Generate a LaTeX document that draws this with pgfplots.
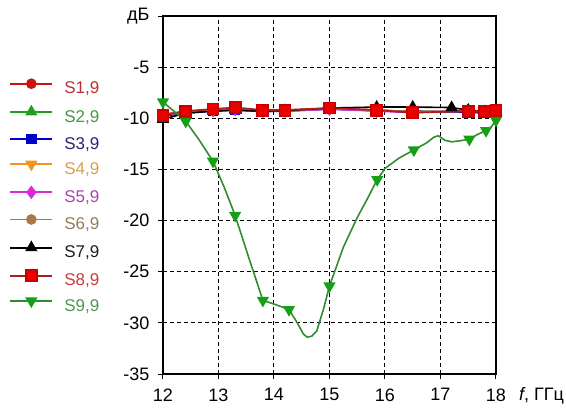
\documentclass[border=0pt]{standalone}
\usepackage{pgfplots}
\pgfplotsset{compat=1.18}
\usepackage{fontspec}
\setmainfont{Liberation Sans}
\definecolor{cS1}{RGB}{200,20,20}
\definecolor{cS1t}{RGB}{180,50,50}
\definecolor{cS2}{RGB}{30,160,30}
\definecolor{cS2t}{RGB}{70,150,70}
\definecolor{cS3}{RGB}{0,0,200}
\definecolor{cS3t}{RGB}{40,40,110}
\definecolor{cS4}{RGB}{240,150,30}
\definecolor{cS4t}{RGB}{215,160,80}
\definecolor{cS5}{RGB}{220,40,220}
\definecolor{cS5t}{RGB}{170,70,170}
\definecolor{cS6}{RGB}{170,120,70}
\definecolor{cS6t}{RGB}{150,125,90}
\definecolor{cS7}{RGB}{0,0,0}
\definecolor{cS7t}{RGB}{30,30,30}
\definecolor{cS8}{RGB}{235,0,0}
\definecolor{cS8l}{RGB}{170,30,30}
\definecolor{cS8t}{RGB}{200,60,60}
\definecolor{cS9}{RGB}{20,160,20}
\definecolor{cS9l}{RGB}{50,140,50}
\definecolor{cS9t}{RGB}{80,150,80}
\begin{document}
\begin{tikzpicture}
\useasboundingbox (0,0) rectangle (566pt,408pt);
\begin{axis}[
  at={(163pt,34pt)}, anchor=south west,
  scale only axis, width=333pt, height=358pt,
  xmin=12, xmax=18, ymin=-35, ymax=0,
  xtick={12,13,...,18}, ytick={-35,-30,...,0},
  yticklabels={-35,-30,-25,-20,-15,-10,-5,дБ},
  /pgf/number format/assume math mode=true,
  tick label style={font=\fontsize{18}{20}\selectfont, black},
  xticklabel style={yshift=-6pt},
  yticklabel style={xshift=-5pt},
  tick align=outside, tick pos=left,
  major tick length=5pt,
  every tick/.style={black, line width=1pt},
  axis line style={black, line width=1.2pt},
  grid=major,
  major grid style={black, line width=1pt, dash pattern=on 4pt off 3pt},
  clip=false,
  xlabel={\textit{f}, ГГц},
  xlabel style={at={(axis description cs:1,0)}, anchor=west, xshift=23pt, yshift=-22pt, font=\fontsize{18}{20}\selectfont, inner sep=0pt},
  legend image code/.code={%
    \fill[#1, draw=none, mark=none] (0pt,5.0pt) rectangle (42pt,6.9pt);
    \draw[#1, only marks] plot coordinates {(21pt,5.95pt)};},
  legend style={at={(axis description cs:-0.459,0.824)}, anchor=north west, draw=none, fill=none, inner sep=0pt,
    font=\fontsize{17}{19}\selectfont,
    nodes={inner xsep=0pt, inner ysep=0pt, text height=12pt, text depth=3.5pt},
    row sep=8.9pt,
    /tikz/every odd column/.append style={column sep=12pt}},
  legend cell align=left,
]
\addplot[color=cS1, line width=1.6pt, mark=*, mark size=4.5pt, mark options={solid, fill=cS1, draw=cS1}]
 coordinates {(12,-9.6) (12.4,-9.35) (12.9,-9.2) (13.3,-9.1) (13.8,-9.25) (14.2,-9.2) (15.0,-9.05) (15.85,-9.2) (16.5,-9.4) (17.5,-9.3) (17.8,-9.3) (18,-9.3)};
\addlegendentry{\textcolor{cS1t}{S1,9}}
\addplot[color=cS2, line width=1.6pt, mark=triangle*, mark size=5.5pt, mark options={solid, fill=cS2, draw=cS2}]
 coordinates {(12,-9.7) (12.4,-9.4) (12.9,-9.25) (13.3,-9.15) (13.8,-9.3) (14.2,-9.25) (15.0,-9.1) (15.85,-9.25) (16.5,-9.35) (17.5,-9.35) (17.8,-9.4) (18,-9.4)};
\addlegendentry{\textcolor{cS2t}{S2,9}}
\addplot[color=cS3, line width=1.6pt, mark=square*, mark size=4.5pt, mark options={solid, fill=cS3, draw=cS3}]
 coordinates {(12,-9.8) (12.4,-9.5) (12.9,-9.3) (13.3,-9.2) (13.8,-9.35) (14.2,-9.3) (15.0,-9.1) (15.85,-9.25) (16.5,-9.3) (17.5,-9.4) (17.8,-9.5) (18,-9.5)};
\addlegendentry{\textcolor{cS3t}{S3,9}}
\addplot[color=cS4, line width=1.6pt, mark=triangle*, mark size=5.5pt, mark options={solid, rotate=180, fill=cS4, draw=cS4}]
 coordinates {(12,-9.6) (12.4,-9.4) (12.9,-9.2) (13.3,-9.1) (13.8,-9.3) (14.2,-9.25) (15.0,-9.05) (15.85,-9.2) (16.5,-9.35) (17.5,-9.3) (17.8,-9.35) (18,-9.35)};
\addlegendentry{\textcolor{cS4t}{S4,9}}
\addplot[color=cS5, line width=1.6pt, mark=diamond*, mark size=5.5pt, mark options={solid, fill=cS5, draw=cS5}]
 coordinates {(12,-9.7) (12.4,-9.45) (12.9,-9.25) (13.3,-9.15) (13.8,-9.3) (14.2,-9.3) (15.0,-9.1) (15.85,-9.3) (16.5,-9.45) (17.5,-9.2) (17.8,-9.3) (18,-9.3)};
\addlegendentry{\textcolor{cS5t}{S5,9}}
\addplot[color=cS6, line width=1.6pt, mark=*, mark size=4.5pt, mark options={solid, fill=cS6, draw=cS6}]
 coordinates {(12,-9.65) (12.4,-9.4) (12.9,-9.2) (13.3,-9.1) (13.8,-9.25) (14.2,-9.25) (15.0,-9.05) (15.85,-9.2) (16.5,-9.35) (17.5,-9.3) (17.8,-9.35) (18,-9.35)};
\addlegendentry{\textcolor{cS6t}{S6,9}}
\addplot[color=cS7, line width=1.6pt, mark=triangle*, mark size=5.5pt, mark options={solid, fill=cS7, draw=cS7}]
 coordinates {(12,-10.1) (12.4,-9.5) (12.9,-9.3) (13.3,-9.2) (13.8,-9.3) (14.2,-9.25) (15.0,-9.0) (15.85,-8.9) (16.5,-8.9) (17.2,-8.95) (17.5,-9.2) (17.8,-9.4) (18,-9.5)};
\addlegendentry{\textcolor{cS7t}{S7,9}}
\addplot[color=cS8l, line width=1.8pt, mark=square*, mark size=5.5pt, mark options={solid, fill=cS8, draw=cS8!85!black}]
 coordinates {(12,-9.7) (12.4,-9.3) (12.9,-9.1) (13.3,-8.95) (13.8,-9.2) (14.2,-9.2) (15.0,-9.0) (15.85,-9.2) (16.5,-9.45) (17.5,-9.3) (17.8,-9.35) (18,-9.25)};
\addlegendentry{\textcolor{cS8t}{S8,9}}
\addplot[color=cS9l, line width=1.6pt, mark=triangle*, mark size=5.5pt, mark options={solid, rotate=180, fill=cS9, draw=cS9},
  mark indices={1,2,4,6,8,10,17,21,24,31,33,35}]
 coordinates {(12.0,-8.4) (12.41,-10.3) (12.65,-12.1) (12.9,-14.2) (13.1,-16.7) (13.3,-19.5) (13.55,-23.7) (13.8,-27.8) (14.02,-28.2) (14.27,-28.7)
 (14.42,-30.0) (14.53,-31.1) (14.6,-31.4) (14.68,-31.3) (14.77,-30.8) (14.89,-28.7) (15.0,-26.4) (15.25,-22.6) (15.5,-19.7) (15.67,-18.0)
 (15.86,-16.0) (16.0,-14.9) (16.25,-13.9) (16.52,-13.1) (16.75,-12.4) (16.88,-11.85) (16.96,-11.7) (17.08,-12.15) (17.2,-12.3) (17.35,-12.2)
 (17.52,-12.05) (17.66,-11.6) (17.82,-11.2) (17.92,-10.8) (18.0,-10.2)};
\addlegendentry{\textcolor{cS9t}{S9,9}}
\end{axis}
\end{tikzpicture}
\end{document}
